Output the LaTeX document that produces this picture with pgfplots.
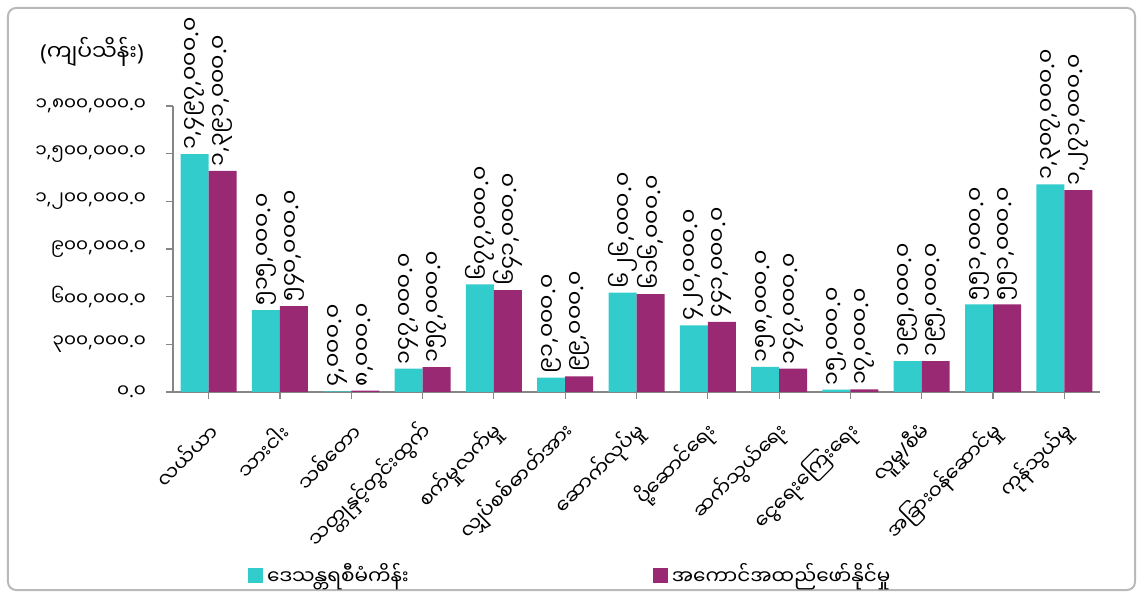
\documentclass[border=0pt]{standalone}
\usepackage{fontspec}
\usepackage{pgfplots}
\pgfplotsset{compat=1.18}
\newfontfamily\mm[Script=Myanmar]{Noto Sans Myanmar UI}
\newfontfamily\lat{Noto Sans}
\XeTeXinterchartokenstate=1
\newXeTeXintercharclass\punctclass
\XeTeXcharclass`\,=\punctclass
\XeTeXcharclass`\.=\punctclass
\XeTeXcharclass`\(=\punctclass
\XeTeXcharclass`\)=\punctclass
\XeTeXcharclass`\/=\punctclass
\XeTeXinterchartoks 0 \punctclass = {\lat}
\XeTeXinterchartoks 4095 \punctclass = {\lat}
\XeTeXinterchartoks \punctclass 0 = {\mm}
\definecolor{cy}{RGB}{51,204,204}
\definecolor{pu}{RGB}{153,41,115}
\definecolor{ax}{RGB}{134,134,134}
\begin{document}
\begin{tikzpicture}
\useasboundingbox (-86.5pt,-103pt) rectangle (485pt,196pt);
\draw[rounded corners=4pt, color=gray!55, line width=1pt] (-82.5pt,-99pt) rectangle (481pt,192pt);
\node[font=\mm\fontsize{11}{13}\selectfont] at (-40.5pt,170pt) {(ကျပ်သိန်း)};
\begin{axis}[
 at={(0,0)}, anchor=south west,
 scale only axis, width=463.5pt, height=143pt,
 xmin=-0.5, xmax=12.5, ymin=0, ymax=1800000,
 axis lines*=left,
 axis line style={ax, line width=0.6pt},
 ybar=0pt, bar width=14pt,
 xtick={0,...,12},
 xticklabels={လယ်ယာ, သားငါး, သစ်တော, သတ္တုနှင့်တွင်းထွက်, စက်မှုလက်မှု, လျှပ်စစ်ဓာတ်အား, ဆောက်လုပ်မှု, ပို့ဆောင်ရေး, ဆက်သွယ်ရေး, ငွေရေးကြေးရေး, လူမှု/စီမံ, အခြားဝန်ဆောင်မှု, ကုန်သွယ်မှု},
 ytick={0,300000,600000,900000,1200000,1500000,1800000},
 yticklabels={{၀.၀},{၃၀၀,၀၀၀.၀},{၆၀၀,၀၀၀.၀},{၉၀၀,၀၀၀.၀},{၁,၂၀၀,၀၀၀.၀},{၁,၅၀၀,၀၀၀.၀},{၁,၈၀၀,၀၀၀.၀}},
 scaled y ticks=false,
 tick align=outside, major tick length=3.5pt,
 tick style={ax, line width=0.6pt},
 xticklabel style={font=\mm\fontsize{10}{12}\selectfont, xshift=5pt, yshift=-12pt, rotate=45, anchor=east},
 yticklabel style={font=\mm\fontsize{9.2}{11}\selectfont, xshift=-6.5pt},
 clip=false,
 point meta=explicit symbolic,
 nodes near coords,
 nodes near coords style={rotate=90, anchor=west, font=\mm\fontsize{11}{13}\selectfont, inner sep=2pt},
 legend columns=2,
 legend style={draw=none, fill=none, at={(0.074,-0.64)}, anchor=west,
   font=\mm\fontsize{10}{12}\selectfont,
   /tikz/every even column/.append style={column sep=120pt}},
]
\addplot[fill=cy, draw=none, legend image code/.code={\fill[cy] (0pt,-3.75pt) rectangle (7.5pt,3.75pt);}] table[x=x, y=y, meta=lab] {
x y lab
0 1497000 ၁,၄၉၇,၀၀၀.၀
1 515000 ၅၁၅,၀၀၀.၀
2 4000 ၄,၀၀၀.၀
3 147000 ၁၄၇,၀၀၀.၀
4 677000 ၆၇၇,၀၀၀.၀
5 91000 ၉၁,၀၀၀.၀
6 626000 ၆၂၆,၀၀၀.၀
7 420000 ၄၂၀,၀၀၀.၀
8 158000 ၁၅၈,၀၀၀.၀
9 15000 ၁၅,၀၀၀.၀
10 195000 ၁၉၅,၀၀၀.၀
11 551000 ၅၅၁,၀၀၀.၀
12 1307000 ၁,၃၀၇,၀၀၀.၀
};
\addlegendentry{ဒေသန္တရစီမံကိန်း}
\addplot[fill=pu, draw=none, legend image code/.code={\fill[pu] (0pt,-3.75pt) rectangle (7.5pt,3.75pt);}] table[x=x, y=y, meta=lab] {
x y lab
0 1391000 ၁,၃၉၁,၀၀၀.၀
1 540000 ၅၄၀,၀၀၀.၀
2 8000 ၈,၀၀၀.၀
3 157000 ၁၅၇,၀၀၀.၀
4 641000 ၆၄၁,၀၀၀.၀
5 99000 ၉၉,၀၀၀.၀
6 616000 ၆၁၆,၀၀၀.၀
7 441000 ၄၄၁,၀၀၀.၀
8 147000 ၁၄၇,၀၀၀.၀
9 17000 ၁၇,၀၀၀.၀
10 195000 ၁၉၅,၀၀၀.၀
11 551000 ၅၅၁,၀၀၀.၀
12 1271000 ၁,၂၇၁,၀၀၀.၀
};
\addlegendentry{အကောင်အထည်ဖော်နိုင်မှု}
\end{axis}
\end{tikzpicture}
\end{document}
